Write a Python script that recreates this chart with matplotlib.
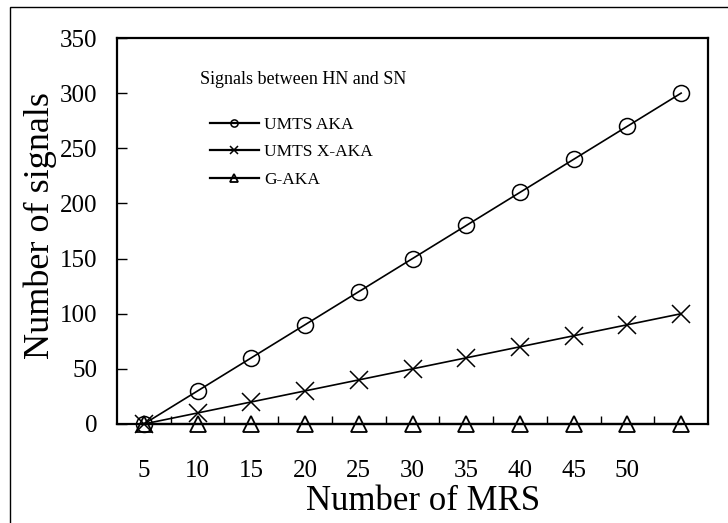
import matplotlib
matplotlib.use("Agg")
import matplotlib.pyplot as plt
from matplotlib.patches import Rectangle
from matplotlib.ticker import FixedLocator

plt.rcParams['font.family'] = ['Liberation Serif', 'DejaVu Serif']

categories = ["5", "10", "15", "20", "25", "30", "35", "40", "45", "50", ""]
umts_aka = [0, 30, 60, 90, 120, 150, 180, 210, 240, 270, 300]
umts_xaka = [0, 10, 20, 30, 40, 50, 60, 70, 80, 90, 100]
g_aka = [0, 0, 0, 0, 0, 0, 0, 0, 0, 0, 0]
yticks = [0, 50, 100, 150, 200, 250, 300, 350]

W, H = 728, 523
fig = plt.figure(figsize=(W / 100, H / 100), dpi=100)
# outer frame
fig.patches.append(Rectangle((10 / W, -0.05), 1.2, 1 - 7 / H + 0.05, transform=fig.transFigure,
                             fill=False, edgecolor='black', linewidth=1.0))

ax = fig.add_axes([117 / W, 1 - 424 / H, (708 - 117) / W, (424 - 38) / H])
x = list(range(len(categories)))

ax.plot(x, umts_aka, color='black', lw=1.2, marker='o', ms=11.5, mfc='none', mew=1.1,
        clip_on=False, label='UMTS AKA', zorder=3)
ax.plot(x, umts_xaka, color='black', lw=1.2, marker='x', ms=13, mew=1.1,
        clip_on=False, label='UMTS X-AKA', zorder=3)
ax.plot(x, g_aka, color='black', lw=1.6, marker='^', ms=12, mfc='none', mew=1.3,
        clip_on=False, label='G-AKA', zorder=3)

ax.set_xlim(-0.5, len(categories) - 0.5)
ax.set_ylim(0, 350)
ax.set_xticks(x)
ax.set_xticklabels(categories)
ax.xaxis.set_minor_locator(FixedLocator([i + 0.5 for i in range(len(categories) - 1)]))
ax.tick_params(axis='x', which='major', length=0, pad=26, labelsize=18)
ax.tick_params(axis='x', which='minor', direction='in', length=6, width=1)
ax.set_yticks(yticks)
ax.tick_params(axis='y', which='major', direction='in', length=7, width=1, pad=14, labelsize=18)
for s in ax.spines.values():
    s.set_linewidth(1.6)

fig.text(40 / W, 1 - 226 / H, 'Number of signals', rotation=90, ha='center', va='center', fontsize=26)
fig.text(423 / W, 1 - 510 / H, 'Number of MRS', ha='center', va='baseline', fontsize=25)

fig.text(200 / W, 1 - 80 / H, 'Signals between HN and SN', ha='left', va='center', fontsize=13)
leg = ax.legend(loc='upper left', bbox_to_anchor=(210 / W, 1 - 117 / H), bbox_transform=fig.transFigure,
                frameon=False, fontsize=12.5,
                handlelength=2.8, handletextpad=0.3, labelspacing=0.64,
                markerscale=0.45, borderaxespad=0, borderpad=0)
for h in leg.get_lines():
    h.set_linewidth(1.6)

fig.savefig('out.png', dpi=100)
